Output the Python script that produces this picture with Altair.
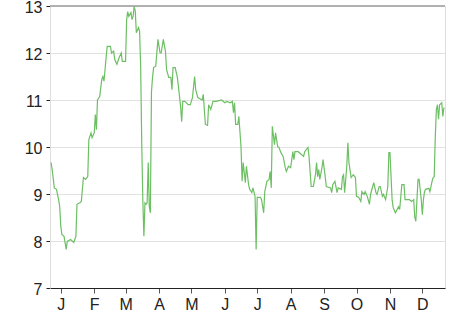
import altair as alt
import pandas as pd

# days since 2015-12-22 and the values
days = [1, 2, 4, 6, 8, 9, 10, 11, 13, 15, 16, 19, 22, 24, 25, 28, 29, 31, 33, 35,
        36, 38, 39, 41, 42, 43, 44, 46, 48, 49, 50, 52, 53, 56, 57, 59, 60, 62, 64, 66,
        67, 70, 71, 72, 73, 75, 76, 77, 78, 79, 80, 82, 83, 84, 85, 86, 87, 88, 89, 90,
        91, 92, 93, 94, 95, 96, 98, 100, 102, 103, 105, 107, 108, 110, 112, 113, 114, 116, 118, 119,
        121, 122, 123, 125, 128, 130, 132, 134, 135, 137, 141, 142, 144, 146, 147, 149, 151, 154, 159, 162,
        164, 167, 169, 170, 171, 172, 174, 175, 177, 178, 179, 181, 182, 184, 185, 187, 188, 190, 191, 192,
        195, 196, 198, 199, 201, 203, 204, 205, 206, 208, 209, 211, 212, 214, 216, 218, 219, 221, 223, 225,
        226, 227, 230, 233, 235, 236, 239, 240, 242, 244, 246, 247, 248, 249, 250, 252, 253, 255, 256, 260,
        261, 262, 264, 266, 267, 270, 271, 272, 273, 275, 276, 277, 279, 281, 283, 284, 286, 288, 289, 291,
        292, 294, 296, 297, 299, 300, 302, 303, 305, 306, 308, 309, 311, 313, 314, 315, 317, 318, 320, 323,
        324, 326, 328, 329, 331, 333, 335, 337, 338, 339, 340, 341, 342, 344, 345, 346, 347, 348, 351, 352,
        354, 355, 356, 357, 358, 359, 360, 361, 363, 364, 365]
values = [9.67, 9.52, 9.13, 9.10, 8.88, 8.73, 8.31, 8.14, 8.10, 7.82, 7.99, 8.03, 7.97, 8.10, 8.78, 8.82, 8.84, 9.35, 9.31, 9.37,
          10.16, 10.30, 10.20, 10.30, 10.69, 10.37, 11.00, 11.07, 11.44, 11.50, 11.40, 11.90, 12.14, 12.14, 12.00, 12.04, 11.86, 11.76, 11.90, 12.00,
          11.82, 11.82, 12.70, 12.88, 12.78, 12.86, 12.71, 12.78, 13.00, 12.89, 12.43, 12.54, 12.46, 11.72, 10.09, 8.88, 8.10, 8.81, 8.78, 8.81,
          9.67, 8.73, 8.60, 11.16, 11.48, 11.69, 11.72, 12.29, 12.00, 12.00, 12.29, 12.03, 11.65, 11.48, 11.48, 11.22, 11.69, 11.69, 11.48, 11.29,
          10.86, 10.54, 10.97, 10.97, 10.90, 10.90, 11.05, 11.50, 11.22, 11.05, 11.00, 11.12, 10.48, 10.46, 10.90, 10.80, 10.97, 10.97, 11.00, 10.94,
          10.97, 10.94, 10.97, 10.73, 10.94, 10.48, 10.48, 10.65, 10.00, 9.27, 9.67, 9.24, 9.59, 9.20, 9.10, 9.03, 9.13, 8.95, 7.82, 8.93,
          8.93, 8.88, 8.60, 9.05, 9.27, 9.31, 9.48, 9.13, 10.44, 10.05, 10.30, 10.00, 10.00, 9.88, 9.80, 9.56, 9.48, 9.59, 9.56, 9.90,
          9.73, 9.90, 9.90, 9.84, 9.80, 9.90, 9.99, 9.80, 9.16, 9.16, 9.41, 9.67, 9.37, 9.52, 9.31, 9.56, 9.73, 9.37, 9.16, 9.13,
          9.03, 9.20, 9.27, 9.03, 9.13, 9.10, 9.37, 9.41, 9.03, 9.59, 10.09, 9.67, 9.35, 9.41, 9.35, 8.95, 8.93, 8.84, 9.05, 8.99,
          9.05, 8.95, 8.78, 8.99, 9.16, 9.24, 9.03, 8.99, 9.16, 9.16, 8.95, 8.99, 8.88, 9.16, 9.88, 9.88, 8.88, 8.71, 8.60, 8.73,
          8.67, 9.20, 9.20, 8.88, 8.88, 8.88, 8.84, 8.88, 8.50, 8.42, 8.88, 9.31, 9.31, 8.88, 8.56, 8.88, 9.05, 9.10, 9.12, 9.05,
          9.27, 9.35, 9.37, 10.22, 10.80, 10.90, 10.59, 10.90, 10.94, 10.65, 10.84]

y_ticks = [7, 8, 9, 10, 11, 12, 13]
start = pd.Timestamp("2015-12-22")

dates = [(start + pd.Timedelta(days=d)).strftime("%Y-%m-%dT%H:%M:%S") for d in days]
df = pd.DataFrame({"date": dates, "value": values})

month_ticks = [alt.DateTime(year=2016, month=m, date=1) for m in range(1, 13)]
font = "Liberation Sans"

x_enc = alt.X(
    "date:T",
    scale=alt.Scale(domain=[alt.DateTime(year=2015, month=12, date=22),
                            alt.DateTime(year=2016, month=12, date=22)], nice=False),
    axis=alt.Axis(
        values=month_ticks,
        labelExpr="substring(timeFormat(datum.value, '%b'), 0, 1)",
        title=None,
        grid=False,
        domainColor="#222",
        tickColor="#555",
        tickSize=5,
        labelPadding=3,
        labelFont=font,
        labelFontSize=16,
        labelColor="#222",
        labelFlush=False,
        labelOverlap=False,
    ),
)

line = alt.Chart(df).mark_line(color="#6cbf63", strokeWidth=1.2, interpolate="linear").encode(
    x=x_enc,
    y=alt.Y(
        "value:Q",
        scale=alt.Scale(domain=[7, 13], nice=False, zero=False),
        axis=alt.Axis(
            values=y_ticks,
            title=None,
            grid=True,
            gridColor="#e2e2e2",
            domainColor="#dddddd",
            tickColor="#222",
            tickSize=4,
            labelPadding=4,
            labelOffset=1,
            labelFont=font,
            labelFontSize=16,
            labelColor="#222",
            labelFlush=False,
        ),
    ),
)

top_rule = alt.Chart(df).mark_rule(color="#b0b0b0", strokeWidth=1).encode(y=alt.datum(13))

chart = alt.layer(top_rule, line).properties(
    width=395,
    height=282,
    autosize="none",
    padding={"left": 50, "top": 6, "right": 14, "bottom": 24},
).configure_view(stroke="#dddddd", strokeWidth=1).configure(background="white")

chart.save("out.html", embed_options={"renderer": "svg", "actions": False})
